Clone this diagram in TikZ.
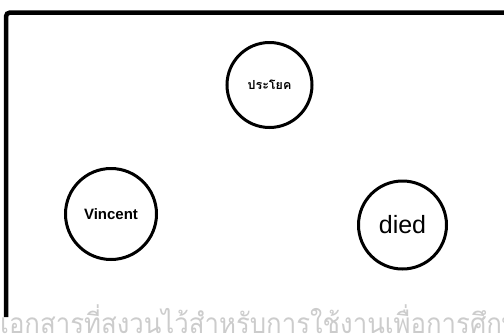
\documentclass[tikz,border=0pt]{standalone}
\usepackage{fontspec}
\setmainfont{Liberation Sans}
\newfontfamily\thaifont[Script=Thai]{Loma}
\newfontfamily\wmfont[Script=Thai,FakeStretch=0.92]{Loma}
\begin{document}
\begin{tikzpicture}[x=1pt,y=-1pt,
  wordnode/.style={circle,draw=black,line width=3pt,inner sep=0pt},
  frameline/.style={line width=4.5pt,rounded corners=4pt}]
\useasboundingbox (0,0) rectangle (504,333);
\begin{scope}
\clip (0,0) rectangle (504,333);
\draw[frameline] (6,317) -- (6,12.5) -- (520,12.5);
\node[wordnode,minimum size=85pt] (sent) at (269.5,85) {\thaifont\bfseries\fontsize{12.5}{13}\selectfont ประโยค};
\node[wordnode,minimum size=91pt] (vin) at (111,214) {\bfseries\fontsize{15}{16}\selectfont Vincent};
\node[wordnode,minimum size=88pt] (died) at (402.5,225) {\fontsize{25}{26}\selectfont died};
\node[anchor=base west,inner sep=0pt,text=black!20] (wm) at (0,333) {\wmfont\fontsize{28}{30}\selectfont เอกสารที่สงวนไว้สำหรับการใช้งานเพื่อการศึกษา};
\end{scope}
\end{tikzpicture}
\end{document}
